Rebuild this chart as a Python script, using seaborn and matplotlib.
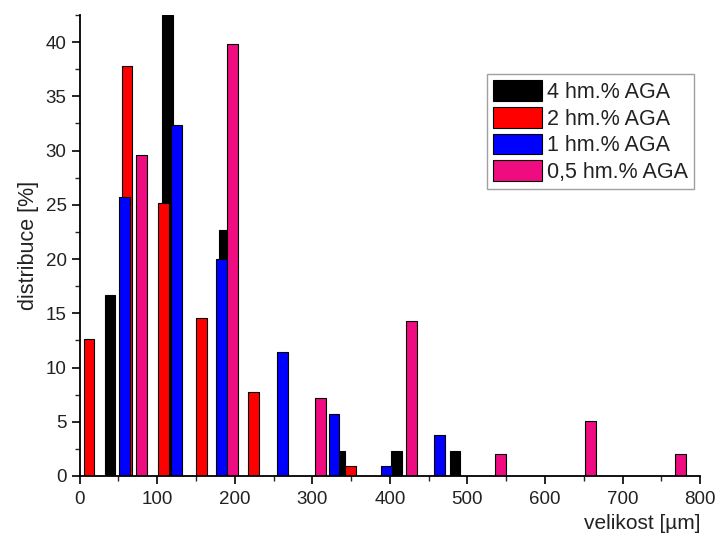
import numpy as np
import pandas as pd
import seaborn as sns
import matplotlib.pyplot as plt
from matplotlib.patches import Patch
from matplotlib.ticker import MultipleLocator

# particle size distribution (velikost in um, distribuce in %)
labels = ["4 hm.% AGA", "2 hm.% AGA", "1 hm.% AGA", "0,5 hm.% AGA"]
colors = ["#000000", "#FF0000", "#0000FF", "#EE0C80"]

x_4 = [39, 113, 187, 335, 409, 484]
y_4 = [16.7, 42.5, 22.7, 2.3, 2.3, 2.3]
x_2 = [12, 61, 108, 157, 224, 349]
y_2 = [12.6, 37.8, 25.2, 14.6, 7.7, 0.9]
x_1 = [58, 125, 183, 261, 328, 396, 464]
y_1 = [25.7, 32.4, 20.0, 11.4, 5.7, 0.9, 3.8]
x_05 = [80, 197, 311, 428, 543, 659, 775]
y_05 = [29.6, 39.8, 7.2, 14.3, 2.0, 5.1, 2.0]

series = [(x_4, y_4), (x_2, y_2), (x_1, y_1), (x_05, y_05)]
bar_w = 14

sns.set_style("ticks")
plt.rcParams['font.family'] = ['Liberation Sans', 'DejaVu Sans']

fig = plt.figure(figsize=(7.18, 5.36), dpi=100)
ax = fig.add_axes([0.111, 0.112, 0.864, 0.860])

for (xs, ys), c in zip(series, colors):
    dat = pd.DataFrame({"velikost": xs, "distribuce": ys})
    w = bar_w / np.diff(sorted(xs)).min()
    sns.barplot(data=dat, x="velikost", y="distribuce", native_scale=True,
                width=w, color=c, saturation=1, edgecolor="black",
                linewidth=0.8, errorbar=None, ax=ax)

ax.set_xlim(0, 800)
ax.set_ylim(0, 42.5)
ax.xaxis.set_major_locator(MultipleLocator(100))
ax.xaxis.set_minor_locator(MultipleLocator(50))
ax.yaxis.set_major_locator(MultipleLocator(5))
ax.yaxis.set_minor_locator(MultipleLocator(2.5))
ax.tick_params(which="major", direction="out", length=6, width=1.2,
               labelsize=13.5, color="black", labelcolor="#222222")
ax.tick_params(axis="x", which="major", pad=5)
ax.tick_params(which="minor", direction="out", length=3.5, width=1.0)
for s in ["left", "bottom"]:
    ax.spines[s].set_linewidth(1.3)
    ax.spines[s].set_color("black")
sns.despine(ax=ax)

ax.set_xlabel("velikost [µm]", fontsize=15, loc="right", labelpad=4, color="#222222")
ax.set_ylabel("distribuce [%]", fontsize=15.5, labelpad=5, color="#222222")

handles = [Patch(facecolor=c, edgecolor="black", linewidth=0.8) for c in colors]
leg = ax.legend(handles, labels, loc="upper left", bbox_to_anchor=(0.656, 0.872),
                borderaxespad=0, fontsize=15.5, frameon=True, fancybox=False,
                edgecolor="#888888", handlelength=2.25, handleheight=1.1,
                labelspacing=0.18, handletextpad=0.25, borderpad=0.3)
leg.get_frame().set_linewidth(1.0)
for t in leg.get_texts():
    t.set_color("#222222")

fig.savefig("out.png", dpi=100)
